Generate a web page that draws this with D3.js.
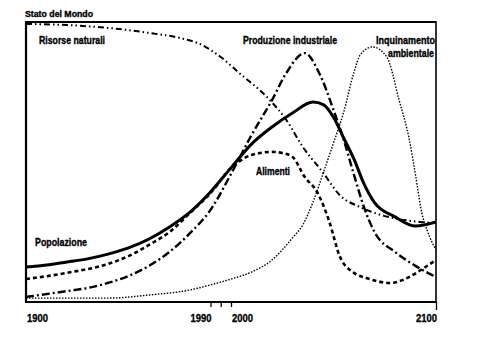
<!DOCTYPE html>
<html>
<head>
<meta charset="utf-8">
<script src="https://d3js.org/d3.v7.min.js"></script>
<style>
  body { margin: 0; background: #fff; }
  svg text { font-family: "Liberation Sans", Arial, sans-serif; font-weight: bold; fill: #000; stroke: #000; stroke-width: 0.35px; }
</style>
</head>
<body>
<div id="chart"></div>
<script>
// world model scenario, [year, level] pairs on a 0-100 scale
const popolazione = [[1900,12.5],[1910,13.2],[1920,14.3],[1930,15.4],[1940,17.1],[1950,19.3],[1960,22.5],[1970,26.8],[1980,32.1],[1990,39.3],[2000,47.9],[2010,56.4],[2020,62.5],[2030,67.5],[2040,71.4],[2045,70.5],[2050,66],[2055,58.5],[2060,51],[2065,42],[2070,35.5],[2080,30.4],[2090,27.1],[2100,28.6]];
const alimenti = [[1900,8.2],[1920,10.4],[1940,13.6],[1950,16.4],[1960,20.4],[1970,25.0],[1980,31.8],[1990,38.9],[2000,47.9],[2005,50.7],[2010,52.5],[2020,53.6],[2025,53.2],[2030,51.8],[2036,44.6],[2042,39.3],[2048,28.6],[2053,16.4],[2060,10.4],[2066,8.6],[2078,6.8],[2086,8.6],[2094,12.1],[2100,15.0]];
const produzione = [[1900,1.8],[1920,3.9],[1930,5.0],[1940,6.8],[1950,9.3],[1960,12.9],[1970,17.9],[1980,24.6],[1990,32.9],[2000,45.7],[2010,59.6],[2020,72.1],[2027,81.8],[2036,88.9],[2043,81.8],[2050,68.6],[2055,57.9],[2060,45.4],[2065,33.6],[2070,25.0],[2080,17.9],[2090,12.9],[2100,8.9]];
const risorse = [[1900,99.3],[1920,98.9],[1940,97.9],[1960,96.1],[1975,94.3],[1985,92.1],[1995,87.5],[2004,81.8],[2019,72.1],[2027,65.0],[2035,55.4],[2045,46.1],[2053,38.2],[2063,33.9],[2073,31.1],[2082,29.6],[2092,28.6],[2100,28.2]];
const inquinamento = [[1900,1.4],[1940,1.4],[1960,2.5],[1980,4.3],[1990,6.1],[2000,8.2],[2010,10.7],[2020,15.0],[2030,22.9],[2035,27.5],[2040,35.7],[2045,46.1],[2050,56.8],[2055,67.9],[2060,82.1],[2063,88.2],[2069,91.1],[2076,87.5],[2082,72.1],[2087,57.9],[2090,45.4],[2093,32.1],[2096,25.0],[2100,18.6]];

const tickYears = [1990, 1995, 2000, 2100];
const labelYears = [1900, 1990, 2000, 2100];

const width = 481, height = 339;
const margin = {top: 22, right: 45, bottom: 37, left: 26};

const svg = d3.select("#chart").append("svg")
    .attr("width", width)
    .attr("height", height);

const x = d3.scaleLinear().domain([1900, 2100]).range([margin.left, width - margin.right]);
const y = d3.scaleLinear().domain([0, 100]).range([height - margin.bottom, margin.top]);

svg.append("clipPath").attr("id", "plot")
  .append("rect")
    .attr("x", x(1900)).attr("y", y(100))
    .attr("width", x(2100) - x(1900)).attr("height", y(0) - y(100));

const line = d3.line()
    .x(d => x(d[0]))
    .y(d => y(d[1]))
    .curve(d3.curveMonotoneX);

const series = [
  {data: popolazione, w: 3, dash: null},
  {data: alimenti, w: 2.6, dash: "4,3"},
  {data: produzione, w: 2.4, dash: "8,3,2,3"},
  {data: risorse, w: 2, dash: "6,3,1.5,3,1.5,3"},
  {data: inquinamento, w: 1.4, dash: "1.5,1.5"}
];

svg.append("g").attr("clip-path", "url(#plot)")
  .selectAll("path")
  .data(series)
  .join("path")
    .attr("d", s => line(s.data))
    .attr("fill", "none")
    .attr("stroke", "#000")
    .attr("stroke-width", s => s.w)
    .attr("stroke-dasharray", s => s.dash);

// frame
const frame = svg.append("g").attr("stroke", "#000");
frame.append("line").attr("x1", x(1900)).attr("x2", x(2100)).attr("y1", y(100)).attr("y2", y(100)).attr("stroke-width", 2.2);
frame.append("line").attr("x1", x(1900)).attr("x2", x(1900)).attr("y1", y(100) - 1).attr("y2", y(0) + 1).attr("stroke-width", 2.2);
frame.append("line").attr("x1", x(2100)).attr("x2", x(2100)).attr("y1", y(100) - 1).attr("y2", y(0)).attr("stroke-width", 1.6);

// bottom axis
const xAxis = svg.append("g")
    .attr("transform", `translate(0,${y(0)})`)
    .call(d3.axisBottom(x).tickValues(tickYears).tickSize(5).tickFormat(""));
xAxis.select(".domain").attr("stroke-width", 2.2).attr("d", `M${x(1900)},0H${x(2100)}`);
xAxis.selectAll(".tick line").attr("stroke-width", 1.3)
    .attr("y2", d => d === 2100 ? 8 : 5);

// condensed look: squeeze bold glyphs into the narrow width
svg.append("g").selectAll("text")
  .data(labelYears)
  .join("text")
    .attr("x", d => x(d) + 1)
    .attr("y", 322)
    .attr("text-anchor", d => (d === 1990 || d === 2100) ? "end" : "start")
    .attr("textLength", 21)
    .attr("lengthAdjust", "spacingAndGlyphs")
    .style("font-size", "11.5px")
    .text(d => d);

// title and series labels
svg.append("text").attr("x", 25).attr("y", 17)
    .attr("textLength", 68)
    .attr("lengthAdjust", "spacingAndGlyphs")
    .style("font-size", "9px")
    .text("Stato del Mondo");

const labels = [
  {t: "Risorse naturali", x: 39, y: 44, w: 66, a: "start"},
  {t: "Produzione industriale", x: 243, y: 44, w: 94, a: "start"},
  {t: "Inquinamento", x: 435, y: 44, w: 59, a: "end"},
  {t: "ambientale", x: 434, y: 57, w: 46, a: "end"},
  {t: "Alimenti", x: 256, y: 175, w: 34, a: "start"},
  {t: "Popolazione", x: 35, y: 246, w: 52, a: "start"}
];
svg.append("g").selectAll("text")
  .data(labels)
  .join("text")
    .attr("x", d => d.x)
    .attr("y", d => d.y)
    .attr("text-anchor", d => d.a)
    .attr("textLength", d => d.w)
    .attr("lengthAdjust", "spacingAndGlyphs")
    .style("font-size", "10.5px")
    .text(d => d.t);
</script>
</body>
</html>
